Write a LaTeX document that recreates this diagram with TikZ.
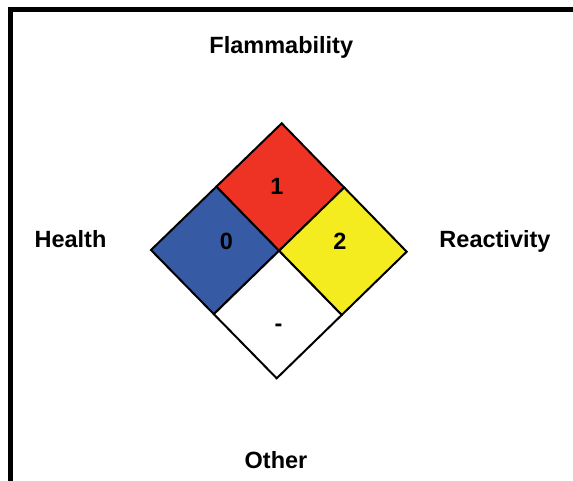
\documentclass[tikz,border=0pt]{standalone}
\usepackage{fontspec}
\setmainfont{Liberation Sans}
\usetikzlibrary{calc}
\definecolor{nfpared}{RGB}{238,50,36}
\definecolor{nfpablue}{RGB}{55,90,165}
\definecolor{nfpayellow}{RGB}{244,236,30}
\tikzset{
  lbl/.style={font=\fontsize{23.5}{28}\selectfont\bfseries, anchor=base, inner sep=0pt},
  quad/.style={draw=black, line width=2pt, line join=miter},
}
\begin{document}
\begin{tikzpicture}[x=1pt,y=-1pt]
\useasboundingbox (0,0) rectangle (573,480);
\fill[white] (0,0) rectangle (573,480);
% frame
\draw[line width=5pt, line join=miter] (10.3,490) -- (10.3,9.3) -- (590,9.3);
% diamond vertices
\coordinate (T) at (281.7,123.3);
\coordinate (L) at (151,250);
\coordinate (R) at (406.7,251.7);
\coordinate (B) at (276.7,378.3);
\coordinate (C) at (279,250.8);
\coordinate (TL) at ($(T)!0.5!(L)$);
\coordinate (TR) at ($(T)!0.5!(R)$);
\coordinate (BR) at ($(B)!0.5!(R)$);
\coordinate (BL) at ($(B)!0.5!(L)$);
\filldraw[quad, fill=nfpared] (T) -- (TR) -- (C) -- (TL) -- cycle;
\filldraw[quad, fill=nfpablue] (TL) -- (C) -- (BL) -- (L) -- cycle;
\filldraw[quad, fill=nfpayellow] (TR) -- (R) -- (BR) -- (C) -- cycle;
\filldraw[quad, fill=white] (C) -- (BR) -- (B) -- (BL) -- cycle;
% numbers
\node[lbl] (flamnum) at (277,194) {1};
\node[lbl] (healthnum) at (226.5,249.3) {0};
\node[lbl] (reactnum) at (340,249.3) {2};
\node[lbl] (othernum) at (278.5,331) {-};
% labels
\node[lbl] (flam) at (281.3,53) {Flammability};
\node[lbl] (health) at (70.5,247.5) {Health};
\node[lbl] (react) at (495,247.5) {Reactivity};
\node[lbl] (other) at (276,468.5) {Other};
\end{tikzpicture}
\end{document}
